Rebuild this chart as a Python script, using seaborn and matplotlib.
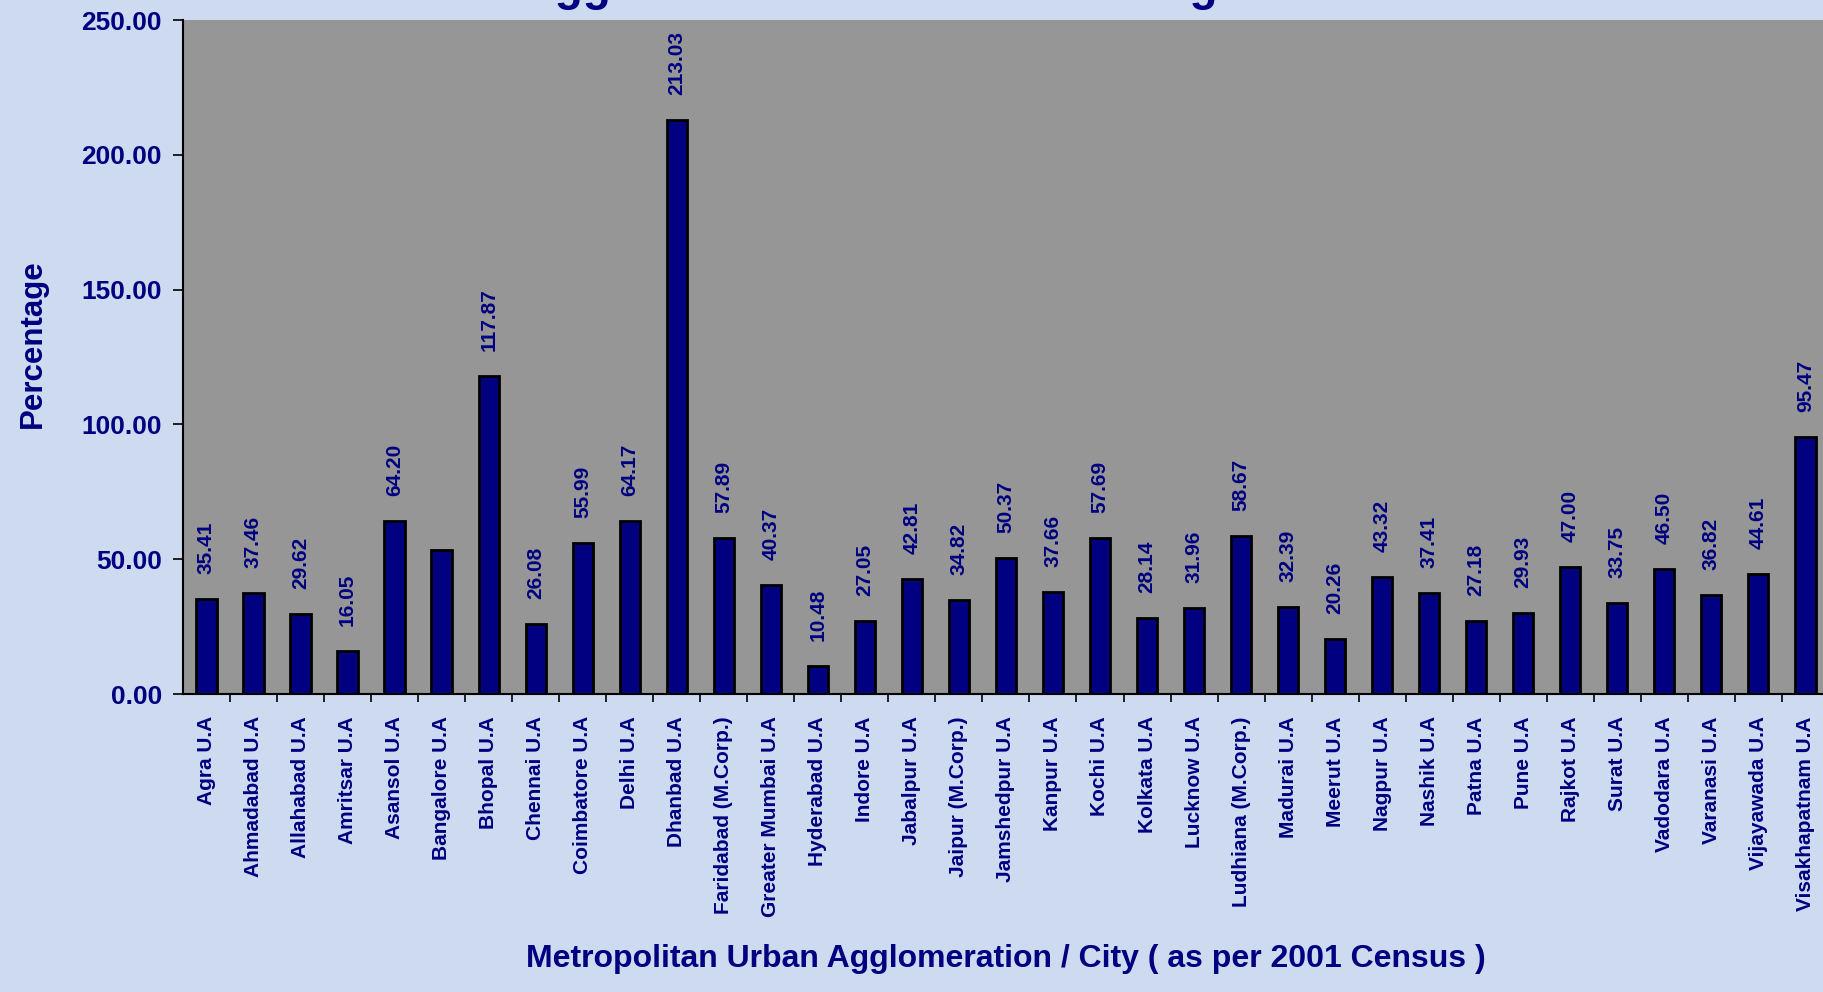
import seaborn as sns
import matplotlib.pyplot as plt
import pandas as pd

cities = ['Agra U.A', 'Ahmadabad U.A', 'Allahabad U.A', 'Amritsar U.A', 'Asansol U.A',
          'Bangalore U.A', 'Bhopal U.A', 'Chennai U.A', 'Coimbatore U.A', 'Delhi U.A',
          'Dhanbad U.A', 'Faridabad (M.Corp.)', 'Greater Mumbai U.A', 'Hyderabad U.A',
          'Indore U.A', 'Jabalpur U.A', 'Jaipur (M.Corp.)', 'Jamshedpur U.A', 'Kanpur U.A',
          'Kochi U.A', 'Kolkata U.A', 'Lucknow U.A', 'Ludhiana (M.Corp.)', 'Madurai U.A',
          'Meerut U.A', 'Nagpur U.A', 'Nashik U.A', 'Patna U.A', 'Pune U.A', 'Rajkot U.A',
          'Surat U.A', 'Vadodara U.A', 'Varanasi U.A', 'Vijayawada U.A', 'Visakhapatnam U.A']
growth = [35.41, 37.46, 29.62, 16.05, 64.20, 53.52, 117.87, 26.08, 55.99, 64.17,
          213.03, 57.89, 40.37, 10.48, 27.05, 42.81, 34.82, 50.37, 37.66, 57.69,
          28.14, 31.96, 58.67, 32.39, 20.26, 43.32, 37.41, 27.18, 29.93, 47.00,
          33.75, 46.50, 36.82, 44.61, 95.47]
y_ticks = [0, 50, 100, 150, 200, 250]
title = 'Decadal Growth Rate - Urban Agglomerations wise Percentage Growth'

df = pd.DataFrame({'city': cities, 'growth': growth})

plt.rcParams['font.family'] = ['Liberation Sans', 'DejaVu Sans']

navy = '#000080'
fig = plt.figure(figsize=(18.24, 9.92), dpi=100, facecolor='#cddaf0')
ax = fig.add_axes([0.1003, 0.3004, 0.9024, 0.6794])
ax.set_facecolor('#969696')

sns.barplot(data=df, x='city', y='growth', color=navy, saturation=1,
            edgecolor='black', linewidth=2, width=0.43, ax=ax)

# value labels (Bangalore's sits inside its bar in the original)
labels = ['%.2f' % v for v in growth]
labels[5] = ''
ax.bar_label(ax.containers[0], labels=labels, rotation=90, padding=18,
             color=navy, fontsize=15, fontweight='bold')
ax.text(5, 17, '%.2f' % growth[5], rotation=90, ha='center', va='bottom',
        color=navy, fontsize=15, fontweight='bold')

ax.set_xlim(-0.5, len(cities) - 0.5)
ax.set_ylim(0, 250)
ax.set_yticks(y_ticks)
ax.set_yticklabels(['%.2f' % t for t in y_ticks], fontsize=19, fontweight='bold', color=navy)
ax.tick_params(axis='y', length=7, width=1.2, direction='out', pad=8)
ax.set_xticks(range(len(cities)))
ax.set_xticklabels(cities, rotation=90, fontsize=15, fontweight='bold', color=navy)
ax.tick_params(axis='x', which='major', length=0, pad=16)
ax.set_xticks([i + 0.5 for i in range(len(cities))], minor=True)
ax.tick_params(axis='x', which='minor', length=6, width=1.2, direction='out')

for s in ['top', 'right']:
    ax.spines[s].set_visible(False)
for s in ['left', 'bottom']:
    ax.spines[s].set_color('black')
    ax.spines[s].set_linewidth(1.5)

ax.set_xlabel('Metropolitan Urban Agglomeration / City ( as per 2001 Census )',
              fontsize=23, fontweight='bold', color=navy)
ax.xaxis.set_label_coords(0.5, -0.371)
ax.set_ylabel('Percentage', fontsize=22.5, fontweight='bold', color=navy)
ax.yaxis.set_label_coords(-0.082, 0.52)

# title: only its descenders show below the top edge in the original,
# so line up the "gg" with where it sits there (~555 px)
renderer = fig.canvas.get_renderer()
tmp = fig.text(0, 0, title[:title.index('gg')], fontsize=33, fontweight='bold')
pre_w = tmp.get_window_extent(renderer).width
tmp.remove()
fig.text((555 - pre_w) / 1824, 1.0, title,
         ha='left', va='baseline', fontsize=33, fontweight='bold', color=navy)

fig.savefig('out.png', dpi=100, facecolor=fig.get_facecolor())
